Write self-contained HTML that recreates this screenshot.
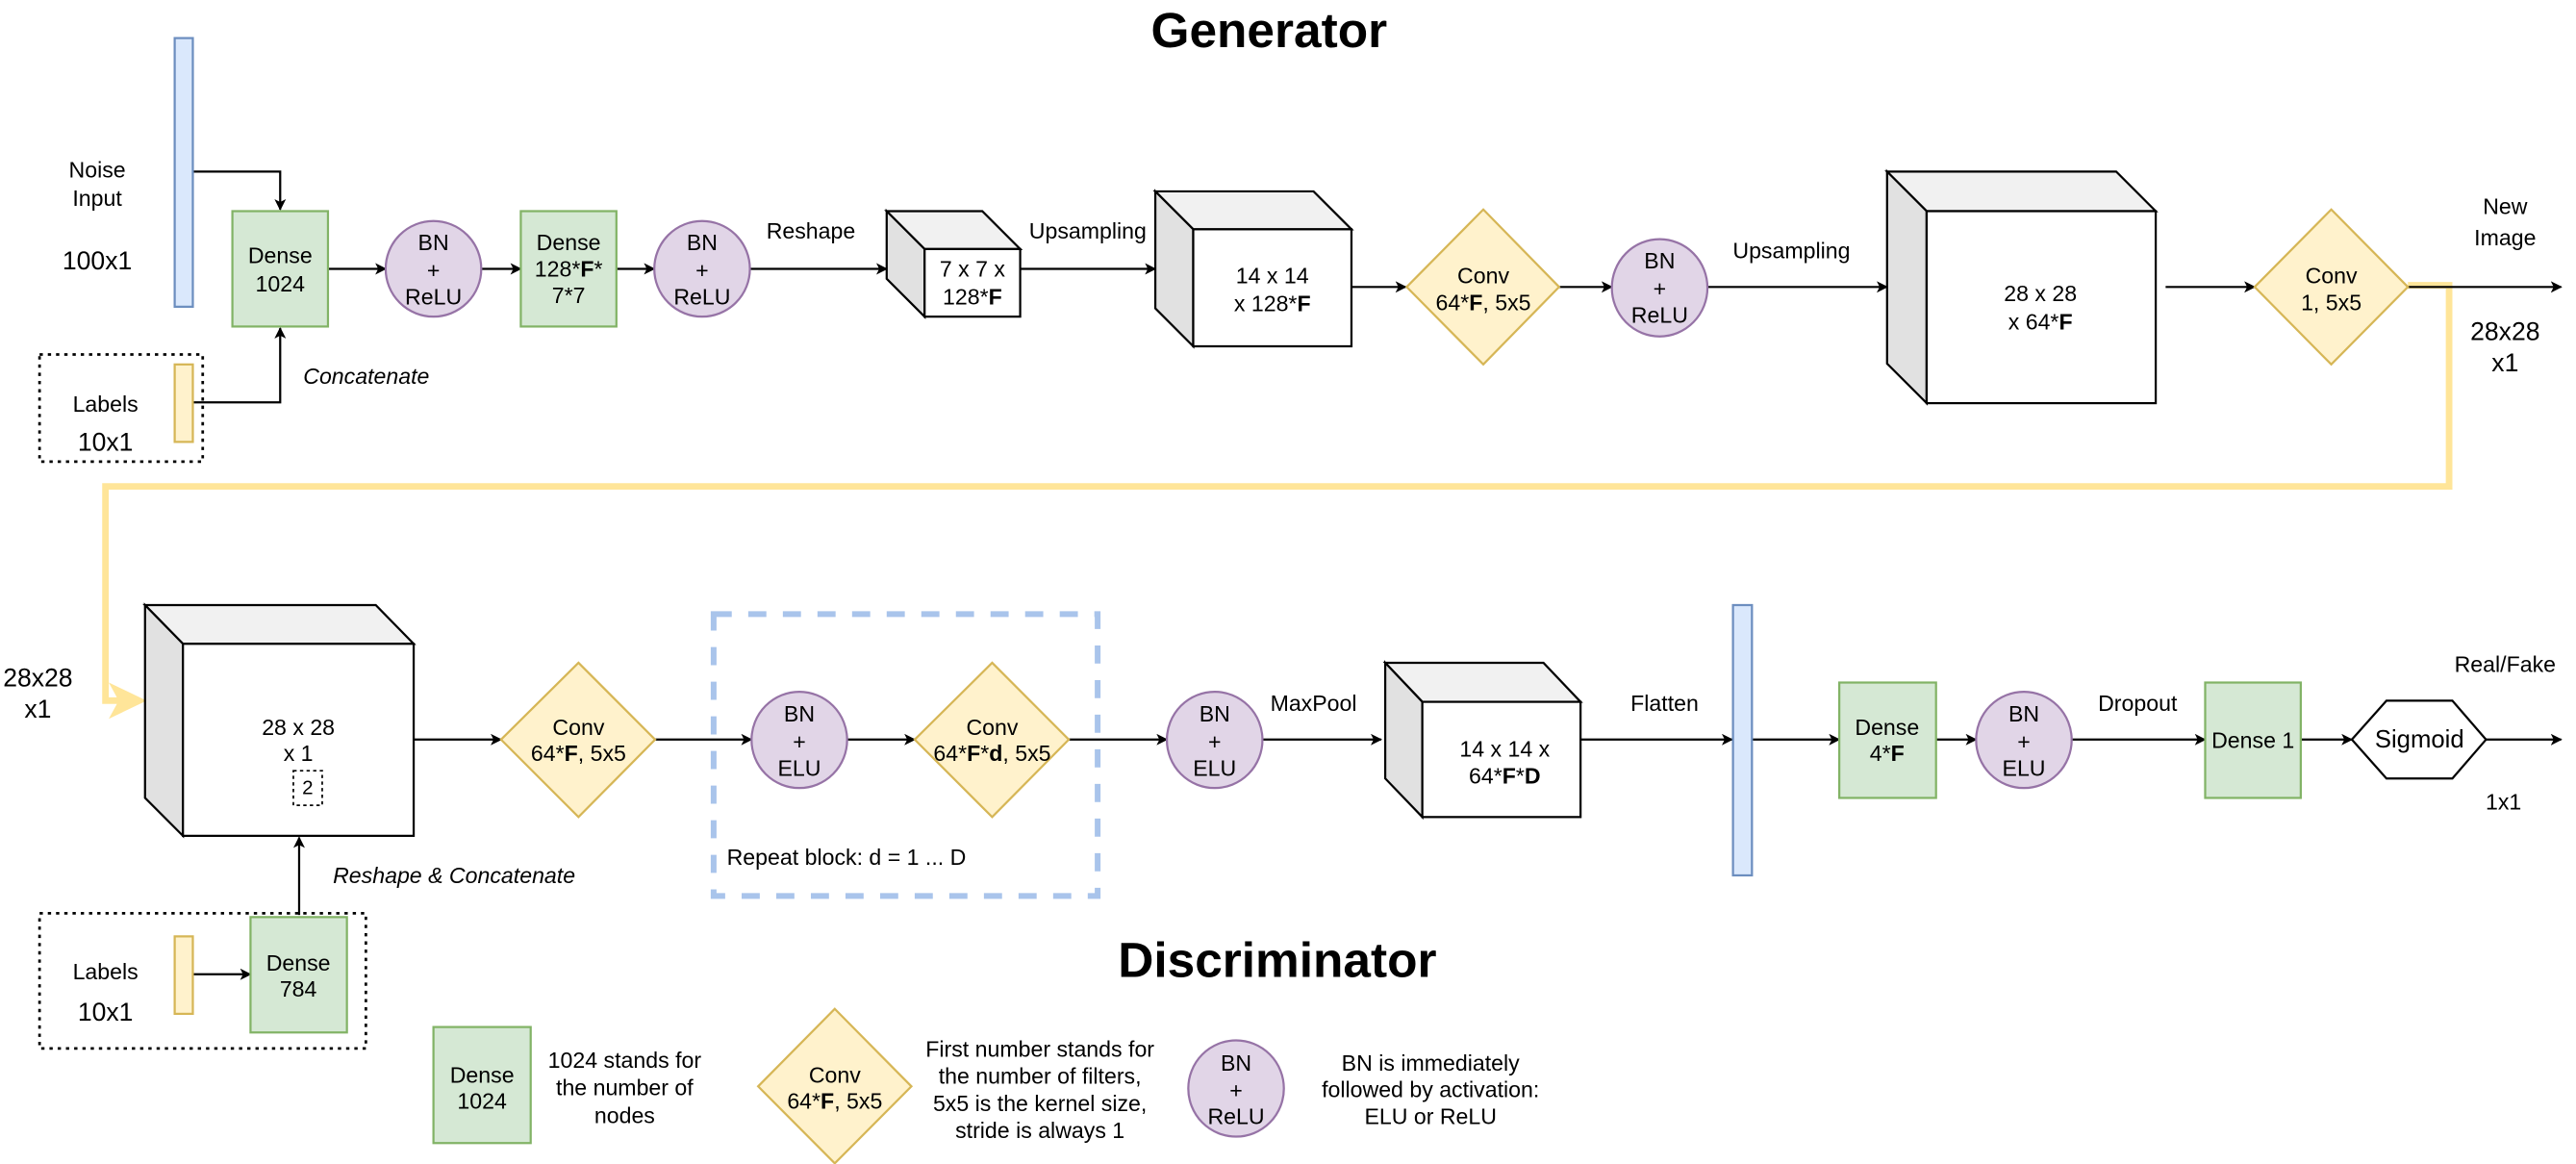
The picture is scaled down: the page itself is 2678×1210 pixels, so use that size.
<!DOCTYPE html>
<html><head><meta charset="utf-8"><style>
html,body{margin:0;padding:0;background:#fff;}
svg{display:block;}
text{font-family:"Liberation Sans",Arial,sans-serif;fill:#000;}
</style></head><body>
<svg width="2678" height="1210" viewBox="0 0 1563 706" xmlns="http://www.w3.org/2000/svg">
<defs>
<marker id="a" viewBox="0 0 10 10" refX="9" refY="5" markerWidth="7" markerHeight="7" markerUnits="userSpaceOnUse" orient="auto">
<path d="M0,0 L10,5 L0,10 L2.5,5 z" fill="#000"/></marker>
</defs>
<rect width="1563" height="706" fill="#fff"/>
<g font-size="13.5" text-anchor="middle" dominant-baseline="central">
<text x="770" y="18" font-size="30" font-weight="bold">Generator</text>
<text x="775" y="582" font-size="30" font-weight="bold">Discriminator</text>

<!-- yellow connector -->
<path d="M1461,173 H1486 V295 H64 V425 H80" fill="none" stroke="#ffe599" stroke-width="4"/>
<path d="M66,414 L89,425 L66,436 L72,425 z" fill="#ffe599"/>

<g stroke="#000" stroke-width="1.3" fill="none" marker-end="url(#a)">
<path d="M117,104 H170 V127"/>
<path d="M117,244 H170 V199"/>
<path d="M199,163 H234"/><path d="M292,163 H316"/><path d="M374,163 H397"/>
<path d="M455,163 H538"/><path d="M619,163 H701"/>
<path d="M820,174 H853"/><path d="M946,174 H978"/><path d="M1036,174 H1145"/>
<path d="M1314,174 H1368"/><path d="M1461,174 H1554"/>
<path d="M251,448.6 H304"/><path d="M397,448.6 H456"/><path d="M514,448.6 H555"/>
<path d="M648,448.6 H708"/><path d="M766,448.6 H838"/><path d="M959,448.6 H1051"/>
<path d="M1063,448.6 H1116"/><path d="M1175,448.6 H1199"/><path d="M1257,448.6 H1338"/>
<path d="M1396,448.6 H1427"/><path d="M1508,448.6 H1554"/>
<path d="M181.5,555 V508"/>
<path d="M117,591 H152"/>
</g>

<!-- noise bar & labels -->
<rect x="106" y="23" width="11" height="163" fill="#dae8fc" stroke="#6c8ebf" stroke-width="1.3"/>
<text x="59" y="103">Noise</text><text x="59" y="120">Input</text>
<text x="59" y="158" font-size="15.5">100x1</text>
<rect x="24" y="215" width="99" height="65" fill="none" stroke="#000" stroke-width="1.6" stroke-dasharray="2,3"/>
<rect x="106" y="221" width="11" height="47" fill="#fff2cc" stroke="#d6b656" stroke-width="1.3"/>
<text x="64" y="245">Labels</text><text x="64" y="268" font-size="15.5">10x1</text>
<text x="184" y="228" text-anchor="start" font-style="italic">Concatenate</text>

<!-- generator nodes -->
<rect x="141" y="128" width="58" height="70" fill="#d5e8d4" stroke="#82b366" stroke-width="1.3"/>
<text x="170" y="155">Dense</text><text x="170" y="172">1024</text>
<ellipse cx="263" cy="163" rx="29" ry="29" fill="#e1d5e7" stroke="#9673a6" stroke-width="1.3"/>
<text x="263" y="147">BN</text><text x="263" y="164">+</text><text x="263" y="180">ReLU</text>
<rect x="316" y="128" width="58" height="70" fill="#d5e8d4" stroke="#82b366" stroke-width="1.3"/>
<text x="345" y="147">Dense</text><text x="345" y="163">128*<tspan font-weight="bold">F</tspan>*</text><text x="345" y="179">7*7</text>
<ellipse cx="426" cy="163" rx="29" ry="29" fill="#e1d5e7" stroke="#9673a6" stroke-width="1.3"/>
<text x="426" y="147">BN</text><text x="426" y="164">+</text><text x="426" y="180">ReLU</text>
<text x="492" y="140">Reshape</text>
<text x="660" y="140">Upsampling</text>

<g stroke="#000" stroke-width="1.3">
<polygon points="538,128 596,128 619,151 561,151" fill="#f1f1f1"/>
<polygon points="538,128 561,151 561,192 538,169" fill="#e1e1e1"/>
<rect x="561" y="151" width="58" height="41" fill="#fff"/>
<polygon points="701,116 797,116 820,139 724,139" fill="#f1f1f1"/>
<polygon points="701,116 724,139 724,210 701,187" fill="#e1e1e1"/>
<rect x="724" y="139" width="96" height="71" fill="#fff"/>
<polygon points="1145,104 1284,104 1308,128 1169,128" fill="#f1f1f1"/>
<polygon points="1145,104 1169,128 1169,244.5 1145,220.5" fill="#e1e1e1"/>
<rect x="1169" y="128" width="139" height="116.5" fill="#fff"/>
<polygon points="88,367 228,367 251,390.5 111,390.5" fill="#f1f1f1"/>
<polygon points="88,367 111,390.5 111,507 88,484" fill="#e1e1e1"/>
<rect x="111" y="390.5" width="140" height="116.5" fill="#fff"/>
<polygon points="840.5,402 936.5,402 959,425.7 863,425.7" fill="#f1f1f1"/>
<polygon points="840.5,402 863,425.7 863,495.6 840.5,472.2" fill="#e1e1e1"/>
<rect x="863" y="425.7" width="96" height="69.9" fill="#fff"/>
</g>
<text x="590" y="163">7 x 7 x</text><text x="590" y="180">128*<tspan font-weight="bold">F</tspan></text>
<text x="772" y="167">14 x 14</text><text x="772" y="184">x 128*<tspan font-weight="bold">F</tspan></text>
<polygon points="900,127 946,174 900,221 853.5,174" fill="#fff2cc" stroke="#d6b656" stroke-width="1.3"/>
<text x="900" y="167">Conv</text><text x="900" y="183.5">64*<tspan font-weight="bold">F</tspan>, 5x5</text>
<ellipse cx="1007" cy="174.5" rx="29" ry="29.5" fill="#e1d5e7" stroke="#9673a6" stroke-width="1.3"/>
<text x="1007" y="158">BN</text><text x="1007" y="175">+</text><text x="1007" y="191">ReLU</text>
<text x="1087" y="152">Upsampling</text>
<text x="1238" y="178">28 x 28</text><text x="1238" y="195">x 64*<tspan font-weight="bold">F</tspan></text>
<polygon points="1414.5,127 1461,174 1414.5,221 1368,174" fill="#fff2cc" stroke="#d6b656" stroke-width="1.3"/>
<text x="1414.5" y="167">Conv</text><text x="1414.5" y="183.5">1, 5x5</text>
<text x="1520" y="125">New</text><text x="1520" y="144">Image</text>
<text x="1520" y="201" font-size="15.5">28x28</text><text x="1520" y="220" font-size="15.5">x1</text>

<!-- discriminator -->
<text x="23" y="411" font-size="15.5">28x28</text><text x="23" y="430" font-size="15.5">x1</text>
<text x="181" y="441">28 x 28</text><text x="181" y="457">x 1</text>
<rect x="178" y="467.5" width="17.5" height="21" fill="none" stroke="#000" stroke-width="1" stroke-dasharray="2,2"/>
<text x="186.7" y="478" font-size="12">2</text>
<text x="202" y="531" text-anchor="start" font-style="italic">Reshape &amp; Concatenate</text>
<rect x="24" y="554" width="198" height="82" fill="none" stroke="#000" stroke-width="1.6" stroke-dasharray="2,3"/>
<rect x="106" y="568" width="11" height="47" fill="#fff2cc" stroke="#d6b656" stroke-width="1.3"/>
<text x="64" y="589.5">Labels</text><text x="64" y="614" font-size="15.5">10x1</text>
<rect x="152" y="556.3" width="58.5" height="70" fill="#d5e8d4" stroke="#82b366" stroke-width="1.3"/>
<text x="181" y="584">Dense</text><text x="181" y="600">784</text>

<polygon points="351,402 397.5,448.6 351,495.6 304,448.6" fill="#fff2cc" stroke="#d6b656" stroke-width="1.3"/>
<text x="351" y="441">Conv</text><text x="351" y="457">64*<tspan font-weight="bold">F</tspan>, 5x5</text>
<rect x="433" y="372.5" width="233" height="171" fill="none" stroke="#a9c4eb" stroke-width="3.5" stroke-dasharray="11,10"/>
<ellipse cx="485" cy="448.8" rx="29" ry="29.2" fill="#e1d5e7" stroke="#9673a6" stroke-width="1.3"/>
<text x="485" y="433">BN</text><text x="485" y="450">+</text><text x="485" y="466">ELU</text>
<polygon points="602,402 648.5,448.6 602,495.6 555,448.6" fill="#fff2cc" stroke="#d6b656" stroke-width="1.3"/>
<text x="602" y="441">Conv</text><text x="602" y="457">64*<tspan font-weight="bold">F</tspan>*<tspan font-weight="bold">d</tspan>, 5x5</text>
<text x="441" y="520" text-anchor="start">Repeat block: d = 1 ... D</text>
<ellipse cx="737" cy="448.8" rx="29" ry="29.2" fill="#e1d5e7" stroke="#9673a6" stroke-width="1.3"/>
<text x="737" y="433">BN</text><text x="737" y="450">+</text><text x="737" y="466">ELU</text>
<text x="797" y="426.4">MaxPool</text>
<text x="913" y="454.3">14 x 14 x</text><text x="913" y="470.6">64*<tspan font-weight="bold">F</tspan>*<tspan font-weight="bold">D</tspan></text>
<text x="1010" y="426.4">Flatten</text>
<rect x="1051.5" y="367" width="11.5" height="164" fill="#dae8fc" stroke="#6c8ebf" stroke-width="1.3"/>
<rect x="1116" y="414" width="58.7" height="70" fill="#d5e8d4" stroke="#82b366" stroke-width="1.3"/>
<text x="1145" y="441">Dense</text><text x="1145" y="457">4*<tspan font-weight="bold">F</tspan></text>
<ellipse cx="1228" cy="448.8" rx="29" ry="29.2" fill="#e1d5e7" stroke="#9673a6" stroke-width="1.3"/>
<text x="1228" y="433">BN</text><text x="1228" y="450">+</text><text x="1228" y="466">ELU</text>
<text x="1297" y="426.4">Dropout</text>
<rect x="1338" y="414" width="58" height="70" fill="#d5e8d4" stroke="#82b366" stroke-width="1.3"/>
<text x="1367" y="449">Dense 1</text>
<polygon points="1427,448.6 1448,425 1488,425 1508.4,448.6 1488,472.2 1448,472.2" fill="#fff" stroke="#000" stroke-width="1.3"/>
<text x="1468" y="448.6" font-size="15">Sigmoid</text>
<text x="1520" y="403">Real/Fake</text>
<text x="1519" y="486.5">1x1</text>

<!-- legend -->
<rect x="263" y="623" width="59" height="70.4" fill="#d5e8d4" stroke="#82b366" stroke-width="1.3"/>
<text x="292.5" y="652">Dense</text><text x="292.5" y="668">1024</text>
<text x="379" y="643.2">1024 stands for</text><text x="379" y="659.6">the number of</text><text x="379" y="676.6">nodes</text>
<polygon points="506.5,612 553,659 506.5,705.7 460,659" fill="#fff2cc" stroke="#d6b656" stroke-width="1.3"/>
<text x="506.5" y="652">Conv</text><text x="506.5" y="668">64*<tspan font-weight="bold">F</tspan>, 5x5</text>
<text x="631" y="636.4">First number stands for</text><text x="631" y="652.8">the number of filters,</text>
<text x="631" y="669.3">5x5 is the kernel size,</text><text x="631" y="685.7">stride is always 1</text>
<ellipse cx="750" cy="660.3" rx="29" ry="29.2" fill="#e1d5e7" stroke="#9673a6" stroke-width="1.3"/>
<text x="750" y="644.8">BN</text><text x="750" y="661.4">+</text><text x="750" y="677.3">ReLU</text>
<text x="868" y="644.8">BN is immediately</text><text x="868" y="661">followed by activation:</text><text x="868" y="677.3">ELU or ReLU</text>
</g>
</svg>
</body></html>
